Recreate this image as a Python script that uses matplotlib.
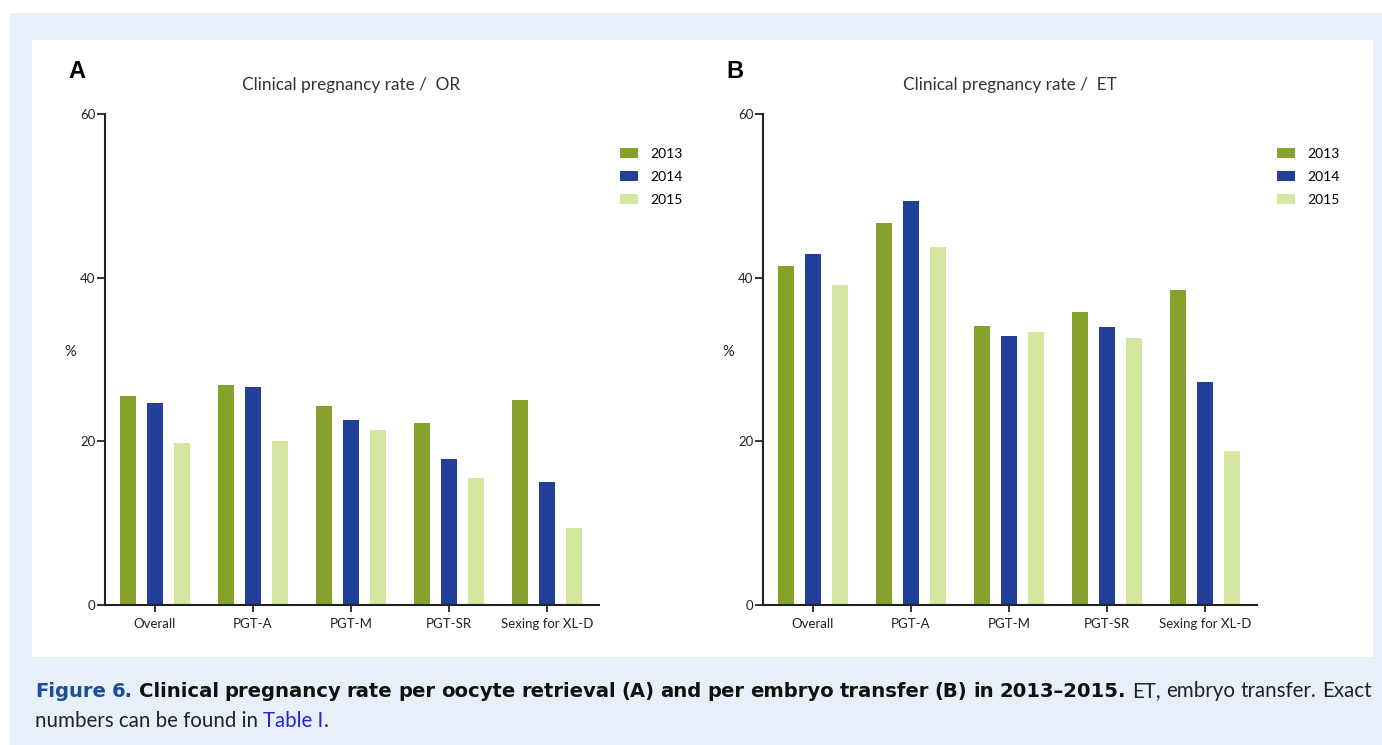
import matplotlib
matplotlib.use("Agg")
import matplotlib.pyplot as plt
from matplotlib.patches import Rectangle, Patch
import numpy as np

plt.rcParams['font.family'] = ['Lato', 'DejaVu Sans']

categories = ["Overall", "PGT-A", "PGT-M", "PGT-SR", "Sexing for XL-D"]
years = ["2013", "2014", "2015"]

# panel A: clinical pregnancy rate per oocyte retrieval (%)
rate_or_2013 = [25.5, 26.9, 24.3, 22.2, 25.1]
rate_or_2014 = [24.7, 26.6, 22.6, 17.8, 15.0]
rate_or_2015 = [19.8, 20.0, 21.4, 15.5, 9.4]

# panel B: clinical pregnancy rate per embryo transfer (%)
rate_et_2013 = [41.4, 46.7, 34.1, 35.8, 38.5]
rate_et_2014 = [42.9, 49.4, 32.9, 34.0, 27.3]
rate_et_2015 = [39.1, 43.7, 33.4, 32.6, 18.8]

colors = ["#86a22b", "#213f98", "#d5e6a0"]

W, H = 1382, 745
fig = plt.figure(figsize=(W / 100, H / 100), dpi=100)
fig.patch.set_facecolor("white")

def px(x, y):
    return x / W, 1 - y / H

# background boxes
fig.patches.append(Rectangle((10 / W, 0), 1 - 10 / W, 1 - 13 / H, transform=fig.transFigure,
                             facecolor="#e7eff9", edgecolor="none", zorder=-2))
fig.patches.append(Rectangle((32 / W, 1 - 657 / H), (1373 - 32) / W, (657 - 40) / H,
                             transform=fig.transFigure, facecolor="white", edgecolor="none", zorder=-1))


def draw_panel(left, series, letter, title, title_x, legend_x):
    ax = fig.add_axes([left / W, 1 - 605 / H, 494 / W, (605 - 114) / H])
    ax.set_facecolor("none")
    x = np.arange(len(categories))
    width = 0.168
    step = 0.275
    for i, (vals, c, yr) in enumerate(zip(series, colors, years)):
        ax.bar(x + (i - 1) * step, vals, width, color=c, label=yr, zorder=2)
    ax.set_xlim(-0.51, 4.53)
    ax.set_ylim(0, 60)
    ax.set_yticks([0, 20, 40, 60])
    ax.set_xticks(x)
    ax.set_xticklabels(categories)
    for s in ["top", "right"]:
        ax.spines[s].set_visible(False)
    for s in ["left", "bottom"]:
        ax.spines[s].set_linewidth(1.5)
        ax.spines[s].set_color("#222222")
    ax.tick_params(axis="y", length=6, width=1.3, pad=1, labelsize=9.5, colors="#222222")
    ax.tick_params(axis="x", length=5, width=1.3, pad=4, labelsize=9.5, colors="#222222")
    ax.set_ylabel("%", rotation=0, fontsize=10.5, color="#222222")
    ax.yaxis.set_label_coords(-0.07, 0.5)

    fig.text(*px(left - 37, 72), letter, fontsize=17, fontweight="bold", ha="left", va="center",
             family=["Liberation Sans", "DejaVu Sans"])
    fig.text(*px(title_x, 85), title, fontsize=12.4, ha="center", va="center", color="#333333")

    handles = [Patch(facecolor=c, edgecolor="none") for c in colors]
    fig.legend(handles, years, loc="upper left", bbox_to_anchor=px(legend_x, 148),
               bbox_transform=fig.transFigure, frameon=False, fontsize=10,
               handlelength=1.3, handleheight=0.75, handletextpad=0.85,
               labelspacing=0.78, borderpad=0, borderaxespad=0)
    return ax


draw_panel(105, [rate_or_2013, rate_or_2014, rate_or_2015], "A",
           "Clinical pregnancy rate /  OR", 351, 620)
draw_panel(763, [rate_et_2013, rate_et_2014, rate_et_2015], "B",
           "Clinical pregnancy rate /  ET", 1010, 1277)

# caption, laid out word by word
fs = 14.8
fig.canvas.draw()
renderer = fig.canvas.get_renderer()
bold_font = ["DejaVu Sans"]
norm_font = ["Lato", "DejaVu Sans"]


def words(text, color, bold):
    return [(w, color, bold) for w in text.split(" ") if w]


def place(items, x0, y0, x1=None):
    texts = []
    for w, color, bold in items:
        t = fig.text(*px(x0, y0), w, fontsize=fs - (0.7 if bold else 0), color=color,
                     fontweight="bold" if bold else "normal",
                     family=bold_font if bold else norm_font, ha="left", va="baseline")
        texts.append(t)
    widths = [t.get_window_extent(renderer=renderer).width for t in texts]
    space = fs * 0.27
    if x1 is not None:
        space = (x1 - x0 - sum(widths)) / (len(texts) - 1)
    x = x0
    for t, wd in zip(texts, widths):
        t.set_position(px(x, y0))
        x += wd + space


line1 = (words("Figure 6.", "#1b4f9c", True)
         + words("Clinical pregnancy rate per oocyte retrieval (A) and per embryo transfer (B) in 2013\u20132015.",
                 "#111111", True)
         + words("ET, embryo transfer. Exact", "#222222", False))
place(line1, 35, 697, 1372)

# second line: "Table I" in link blue, full stop right after it
x = 35
for txt, color in [("numbers can be found in ", "#222222"), ("Table I", "#2323e0"), (".", "#222222")]:
    t = fig.text(*px(x, 727), txt, fontsize=fs, color=color, family=norm_font,
                 ha="left", va="baseline")
    x += t.get_window_extent(renderer=renderer).width

fig.savefig("out.png", dpi=100)
